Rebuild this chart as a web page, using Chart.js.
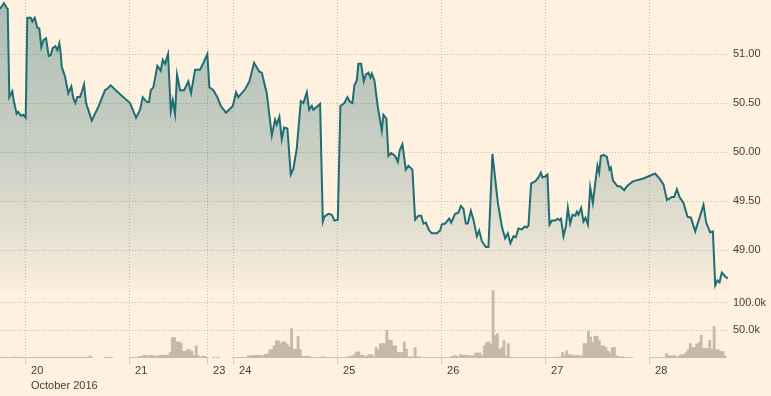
<!DOCTYPE html>
<html>
<head>
<meta charset="utf-8">
<script src="https://cdn.jsdelivr.net/npm/chart.js@4.4.1/dist/chart.umd.min.js"></script>
<style>
  html, body { margin: 0; padding: 0; background: #fff1e0; }
  #wrap { width: 771px; height: 396px; }
</style>
</head>
<body>
<div id="wrap"><canvas id="chart"></canvas></div>
<script>
// x values are trading hours counted from 20 Oct 00:00 (weekend gap removed)
const dayTicks = [0, 24, 42, 48, 72, 96, 120, 144];
const dayLabels = [["20", "October 2016"], "21", "23", "24", "25", "26", "27", "28"];
const priceTicks = [49, 49.5, 50, 50.5, 51];
const volumeTicks = [50, 100]; // thousands

// [hour, price]
const price = [
  [-5.77,51.46],[-4.85,51.52],[-4.22,51.47],[-3.99,51.46],[-3.62,50.56],[-2.93,50.62],[-2.54,50.51],
  [-1.92,50.39],[-1.55,50.41],[-0.92,50.37],[-0.39,50.38],[0.16,50.35],[0.53,51.37],[1.32,51.37],
  [1.68,51.33],[2.24,51.37],[2.84,51.27],[3.30,51.26],[3.76,51.07],[4.22,51.14],[4.85,51.16],
  [5.47,50.98],[5.93,50.99],[6.39,51.06],[6.99,51.08],[7.45,51.04],[7.92,51.11],[8.24,51.01],
  [8.47,50.87],[9.23,50.77],[9.99,50.60],[10.69,50.67],[11.15,50.55],[11.61,50.50],[12.07,50.56],
  [12.69,50.56],[13.16,50.62],[13.62,50.69],[14.08,50.50],[14.61,50.43],[15.39,50.32],[16.92,50.46],
  [18.46,50.63],[19.09,50.65],[19.78,50.68],[21.93,50.59],[24.23,50.50],
  [25.62,50.35],[26.54,50.43],[27.16,50.56],[28.09,50.51],[28.62,50.51],[29.01,50.63],[29.61,50.66],
  [30.53,50.88],[31.32,50.83],[31.78,50.94],[32.31,50.90],[33.00,51.00],[33.63,50.42],[34.09,50.53],
  [34.62,50.39],[35.08,50.79],[35.77,50.63],[36.70,50.63],[37.69,50.72],[38.31,50.60],[39.24,50.84],
  [40.39,50.84],[41.15,50.91],[42.07,51.00],[42.54,50.66],[43.46,50.63],[44.38,50.56],[45.17,50.47],
  [46.39,50.40],[47.94,50.47],
  [48.70,50.61],[49.23,50.56],[50.77,50.64],[51.77,50.72],[52.85,50.91],[54.07,50.82],[54.63,50.81],
  [55.78,50.60],[56.94,50.17],[57.70,50.33],[58.09,50.28],[58.69,50.36],[59.24,50.13],[59.78,50.25],
  [60.54,50.24],[61.32,49.77],[61.92,49.83],[62.71,50.04],[63.63,50.52],[64.23,50.50],[65.02,50.61],
  [65.55,50.43],[66.17,50.47],[66.54,50.43],[68.09,50.49],[68.71,49.29],[69.08,49.34],[70.00,49.37],
  [70.79,49.36],[71.39,49.30],[72.17,49.31],
  [72.77,50.47],[73.69,50.50],[74.39,50.56],[75.01,50.51],[75.54,50.50],[76.00,50.68],[76.55,50.73],
  [76.92,50.90],[77.55,50.90],[78.17,50.72],[78.63,50.79],[79.23,50.81],[79.69,50.76],[80.02,50.80],
  [80.62,50.73],[81.40,50.46],[82.32,50.22],[82.69,50.38],[83.38,50.34],[83.85,49.96],[84.47,49.99],
  [85.39,49.96],[86.02,49.90],[86.48,50.02],[87.08,50.08],[87.86,49.82],[88.46,49.86],[89.39,49.82],
  [90.01,49.31],[90.77,49.35],[91.40,49.35],[91.93,49.27],[92.48,49.28],[93.24,49.20],[93.87,49.17],
  [95.02,49.17],[95.78,49.20],
  [96.17,49.26],[96.94,49.27],[97.86,49.32],[98.32,49.28],[99.24,49.37],[100.00,49.38],[100.56,49.45],
  [101.16,49.42],[101.71,49.27],[102.17,49.27],[102.87,49.40],[103.47,49.31],[104.25,49.14],[104.78,49.20],
  [105.41,49.09],[106.33,49.03],[106.93,49.03],[107.85,49.98],[109.10,49.48],[110.02,49.24],[110.78,49.12],
  [111.40,49.17],[112.00,49.07],[112.70,49.14],[113.25,49.13],[113.85,49.22],[114.63,49.21],[115.33,49.24],
  [115.79,49.23],[116.16,49.25],[116.78,49.68],[117.71,49.70],[118.47,49.74],[119.02,49.79],[119.39,49.74],
  [120.02,49.75],[120.55,49.77],[121.01,49.26],[121.56,49.30],[122.32,49.30],[122.85,49.32],[123.47,49.30],
  [123.64,49.33],[124.24,49.14],[124.79,49.24],[125.25,49.43],[125.79,49.27],[126.32,49.36],[126.94,49.35],
  [127.33,49.39],[127.70,49.36],[128.32,49.43],[128.85,49.29],[129.32,49.33],[129.87,49.26],[130.40,49.64],
  [131.02,49.48],[131.48,49.65],[132.08,49.86],[132.48,49.79],[132.87,49.96],[133.47,49.97],[134.25,49.95],
  [134.85,49.82],[135.17,49.84],[135.64,49.71],[136.70,49.65],[137.32,49.65],[138.24,49.61],[138.87,49.65],
  [140.25,49.70],[142.70,49.73],
  [145.40,49.78],[146.55,49.72],[147.31,49.67],[148.10,49.51],[149.25,49.54],[149.78,49.54],[150.41,49.62],
  [151.01,49.54],[151.93,49.48],[152.86,49.34],[153.64,49.33],[154.64,49.19],[156.55,49.46],[157.17,49.28],
  [158.09,49.18],[158.71,49.19],[159.25,48.64],[159.78,48.69],[160.24,48.67],[160.79,48.77],[161.55,48.73],
  [162.17,48.71]
];

// [hour, volume in thousands], half-hour bars
const volume = [
  [-5.5,1],[-5,1],[-4.5,1],[-4,1],[-3.5,1],[-3,1],[-2.5,2],[-2,1],[-1.5,1],[-1,1],[-0.5,1],[0,1],
  [0.5,1],[1,1],[1.5,1],[2,1],[2.5,1],[3,1],[3.5,1],[4,1],[4.5,1],[5,1],[5.5,1],[6,1],[6.5,1],[7,1],
  [7.5,1],[8,1],[8.5,1],[9,1],[9.5,1],[10,1],[10.5,1],[11,1],[11.5,1],[12,1],[12.5,1],[13,1],[13.5,1],
  [14,1],[14.5,1],[15,4],[15.5,1],[18.5,1],[19,1],[19.5,1],[20,1],
  [24.5,1],[25,1],[25.5,1],[26,1],[26.5,3],[27,3],[27.5,5],[28,5],[28.5,3],[29,5],[29.5,5],[30,3],
  [30.5,4],[31,4],[31.5,5],[32,5],[32.5,5],[33,5],[33.5,10],[34,37],[34.5,37],[35,29],[35.5,29],[36,27],
  [36.5,12],[37,12],[37.5,15],[38,15],[38.5,12],[39,4],[39.5,22],[40,4],[40.5,2],[41,3],[41.5,3],[42,1],
  [43.5,1.5],[44.5,1.5],
  [48,1],[48.5,1],[49,1],[49.5,1],[50,1],[50.5,1],[51,1],[51.5,4],[52,4],[52.5,4],[53,5],[53.5,5],
  [54,5],[54.5,5],[55,4],[55.5,7],[56,7],[56.5,15],[57,15],[57.5,22],[58,31],[58.5,31],[59,26],[59.5,29],
  [60,29],[60.5,25],[61,20],[61.5,53],[62,16],[62.5,16],[63,39],[63.5,15],[64,3],[64.5,3],[65,3],
  [65.5,3],[66,1],[66.5,0.8],[67,0.8],[67.5,0.8],[68,0.8],[68.5,2],[69,2],[69.5,0.8],[70,0.8],[70.5,0.8],
  [71,0.8],[71.5,0.8],
  [72,0.8],[72.5,0.8],[73,0.8],[73.5,0.8],[74,1],[74.5,2],[75,2],[75.5,4],[76,6],[76.5,11],[77,11],
  [77.5,5],[78,5],[78.5,2],[79,4],[79.5,6],[80,6],[80.5,2],[81,19],[81.5,15],[82,26],[82.5,26],[83,26],
  [83.5,50],[84,32],[84.5,32],[85,22],[85.5,22],[86,10],[86.5,10],[87,10],[87.5,29],[88,16],[88.5,2],
  [89,2],[89.5,2],[90,19],[90.5,2],[91,2],[91.5,0.8],[92,0.8],[92.5,0.8],[93,0.8],[93.5,0.8],[94,0.8],
  [94.5,0.8],[95,0.8],[95.5,0.8],
  [96,0.8],[96.5,0.8],[97,0.8],[97.5,0.8],[98,0.8],[98.5,3],[99,4],[99.5,4],[100,2],[100.5,6],[101,5],
  [101.5,5],[102,5],[102.5,4],[103,4],[103.5,4],[104,9],[104.5,9],[105,9],[105.5,4],[106,22],[106.5,28],
  [107,29],[107.5,25],[108,124],[108.5,41],[109,44],[109.5,15],[110,19],[110.5,31],[111,3],[111.5,26],
  [112,1],[112.5,1],[113,0.8],[113.5,0.8],[114,0.8],[114.5,0.8],[115,0.8],[115.5,0.8],[116,0.8],
  [116.5,0.8],[117,0.8],[117.5,0.8],[118,0.8],[118.5,0.8],[119,0.8],[119.5,0.8],
  [120,0.8],[120.5,0.8],[121,0.8],[121.5,0.8],[122,0.8],[122.5,0.8],[123,1.5],[123.5,1.5],[124,10],
  [124.5,5],[125,13],[125.5,6],[126,6],[126.5,4],[127,4],[127.5,5],[128,4],[128.5,4],[129,26],[129.5,26],
  [130,49],[130.5,38],[131,28],[131.5,39],[132,39],[132.5,31],[133,22],[133.5,22],[134,19],[134.5,13],
  [135,9],[135.5,19],[136,19],[136.5,4],[137,2],[137.5,2],[138,2],[138.5,0.8],[139,0.8],[139.5,0.8],
  [140,0.8],
  [144.5,0.8],[145,0.8],[145.5,0.8],[146,0.8],[146.5,0.8],[147,0.8],[147.5,0.8],[148,8],[148.5,4],
  [149,4],[149.5,4],[150,4],[150.5,2],[151,4],[151.5,6],[152,6],[152.5,10],[153,15],[153.5,26],[154,19],
  [154.5,19],[155,25],[155.5,28],[156,41],[156.5,18],[157,17],[157.5,17],[158,32],[158.5,15],[159,57],
  [159.5,15],[160,15],[160.5,12],[161,12],[161.5,4]
];

const LINE = "#1f6e73";
const BARS = "#c8b8a6";
const GRID = "rgba(120, 100, 80, 0.38)";
const TEXT = "#43403c";
const FONT = { family: "'Liberation Sans', Arial, sans-serif", size: 11, lineHeight: 15 / 11 };

function areaFill(c) {
  const area = c.chart.chartArea;
  if (!area) return "rgba(30, 100, 105, 0.3)";
  const g = c.chart.ctx.createLinearGradient(0, area.top, 0, area.top + 300);
  g.addColorStop(0, "rgba(30, 100, 105, 0.36)");
  g.addColorStop(0.5, "rgba(30, 100, 105, 0.24)");
  g.addColorStop(0.83, "rgba(30, 100, 105, 0.09)");
  g.addColorStop(1, "rgba(30, 100, 105, 0)");
  return g;
}

// right-hand axes share one column: price on top, volume below
function fitRight(s) {
  s.width = 43;
  s.paddingTop = 0;
  s.paddingBottom = 0;
}

const ctx = document.getElementById("chart").getContext("2d");
new Chart(ctx, {
  type: "line",
  data: {
    datasets: [
      {
        type: "line",
        data: price.map(([x, y]) => ({ x, y })),
        yAxisID: "y",
        borderColor: LINE,
        borderWidth: 2,
        pointRadius: 0,
        tension: 0,
        fill: { value: 48.45 },
        backgroundColor: areaFill,
        order: 0,
      },
      {
        type: "bar",
        data: volume.map(([x, y]) => ({ x, y })),
        yAxisID: "v",
        backgroundColor: BARS,
        barPercentage: 1,
        categoryPercentage: 1,
        order: 1,
      },
    ],
  },
  options: {
    responsive: true,
    maintainAspectRatio: false,
    animation: false,
    layout: { padding: 0 },
    plugins: { legend: { display: false }, tooltip: { enabled: false } },
    scales: {
      x: {
        type: "linear",
        min: -5.77,
        max: 162.2,
        offset: false,
        afterBuildTicks: (s) => { s.ticks = dayTicks.map((v) => ({ value: v })); },
        afterFit: (s) => { s.height = 38; s.paddingLeft = 0; s.paddingRight = 0; },
        grid: { color: GRID, tickLength: 6, tickColor: "rgba(120, 100, 80, 0.3)", offset: false },
        border: { display: false, dash: [1, 2] },
        ticks: {
          autoSkip: false,
          maxRotation: 0,
          align: "start",
          labelOffset: 6,
          padding: -1,
          color: TEXT,
          font: FONT,
          callback: (v, i) => dayLabels[i],
        },
      },
      y: {
        position: "right",
        stack: "right",
        stackWeight: 290,
        weight: 0,
        min: 48.592,
        max: 51.551,
        afterBuildTicks: (s) => { s.ticks = priceTicks.map((v) => ({ value: v })); },
        afterFit: fitRight,
        grid: { color: GRID, drawTicks: false },
        border: { display: false, dash: [1, 2] },
        ticks: { padding: 5, color: TEXT, font: FONT, callback: (v) => v.toFixed(2) },
      },
      v: {
        position: "right",
        stack: "right",
        stackWeight: 68,
        weight: 1,
        min: 0,
        max: 122.7,
        afterBuildTicks: (s) => { s.ticks = volumeTicks.map((v) => ({ value: v })); },
        afterFit: fitRight,
        grid: { color: GRID, drawTicks: false },
        border: { display: false, dash: [1, 2] },
        ticks: { padding: 5, color: TEXT, font: FONT, callback: (v) => v.toFixed(1) + "k" },
      },
    },
  },
});
</script>
</body>
</html>
